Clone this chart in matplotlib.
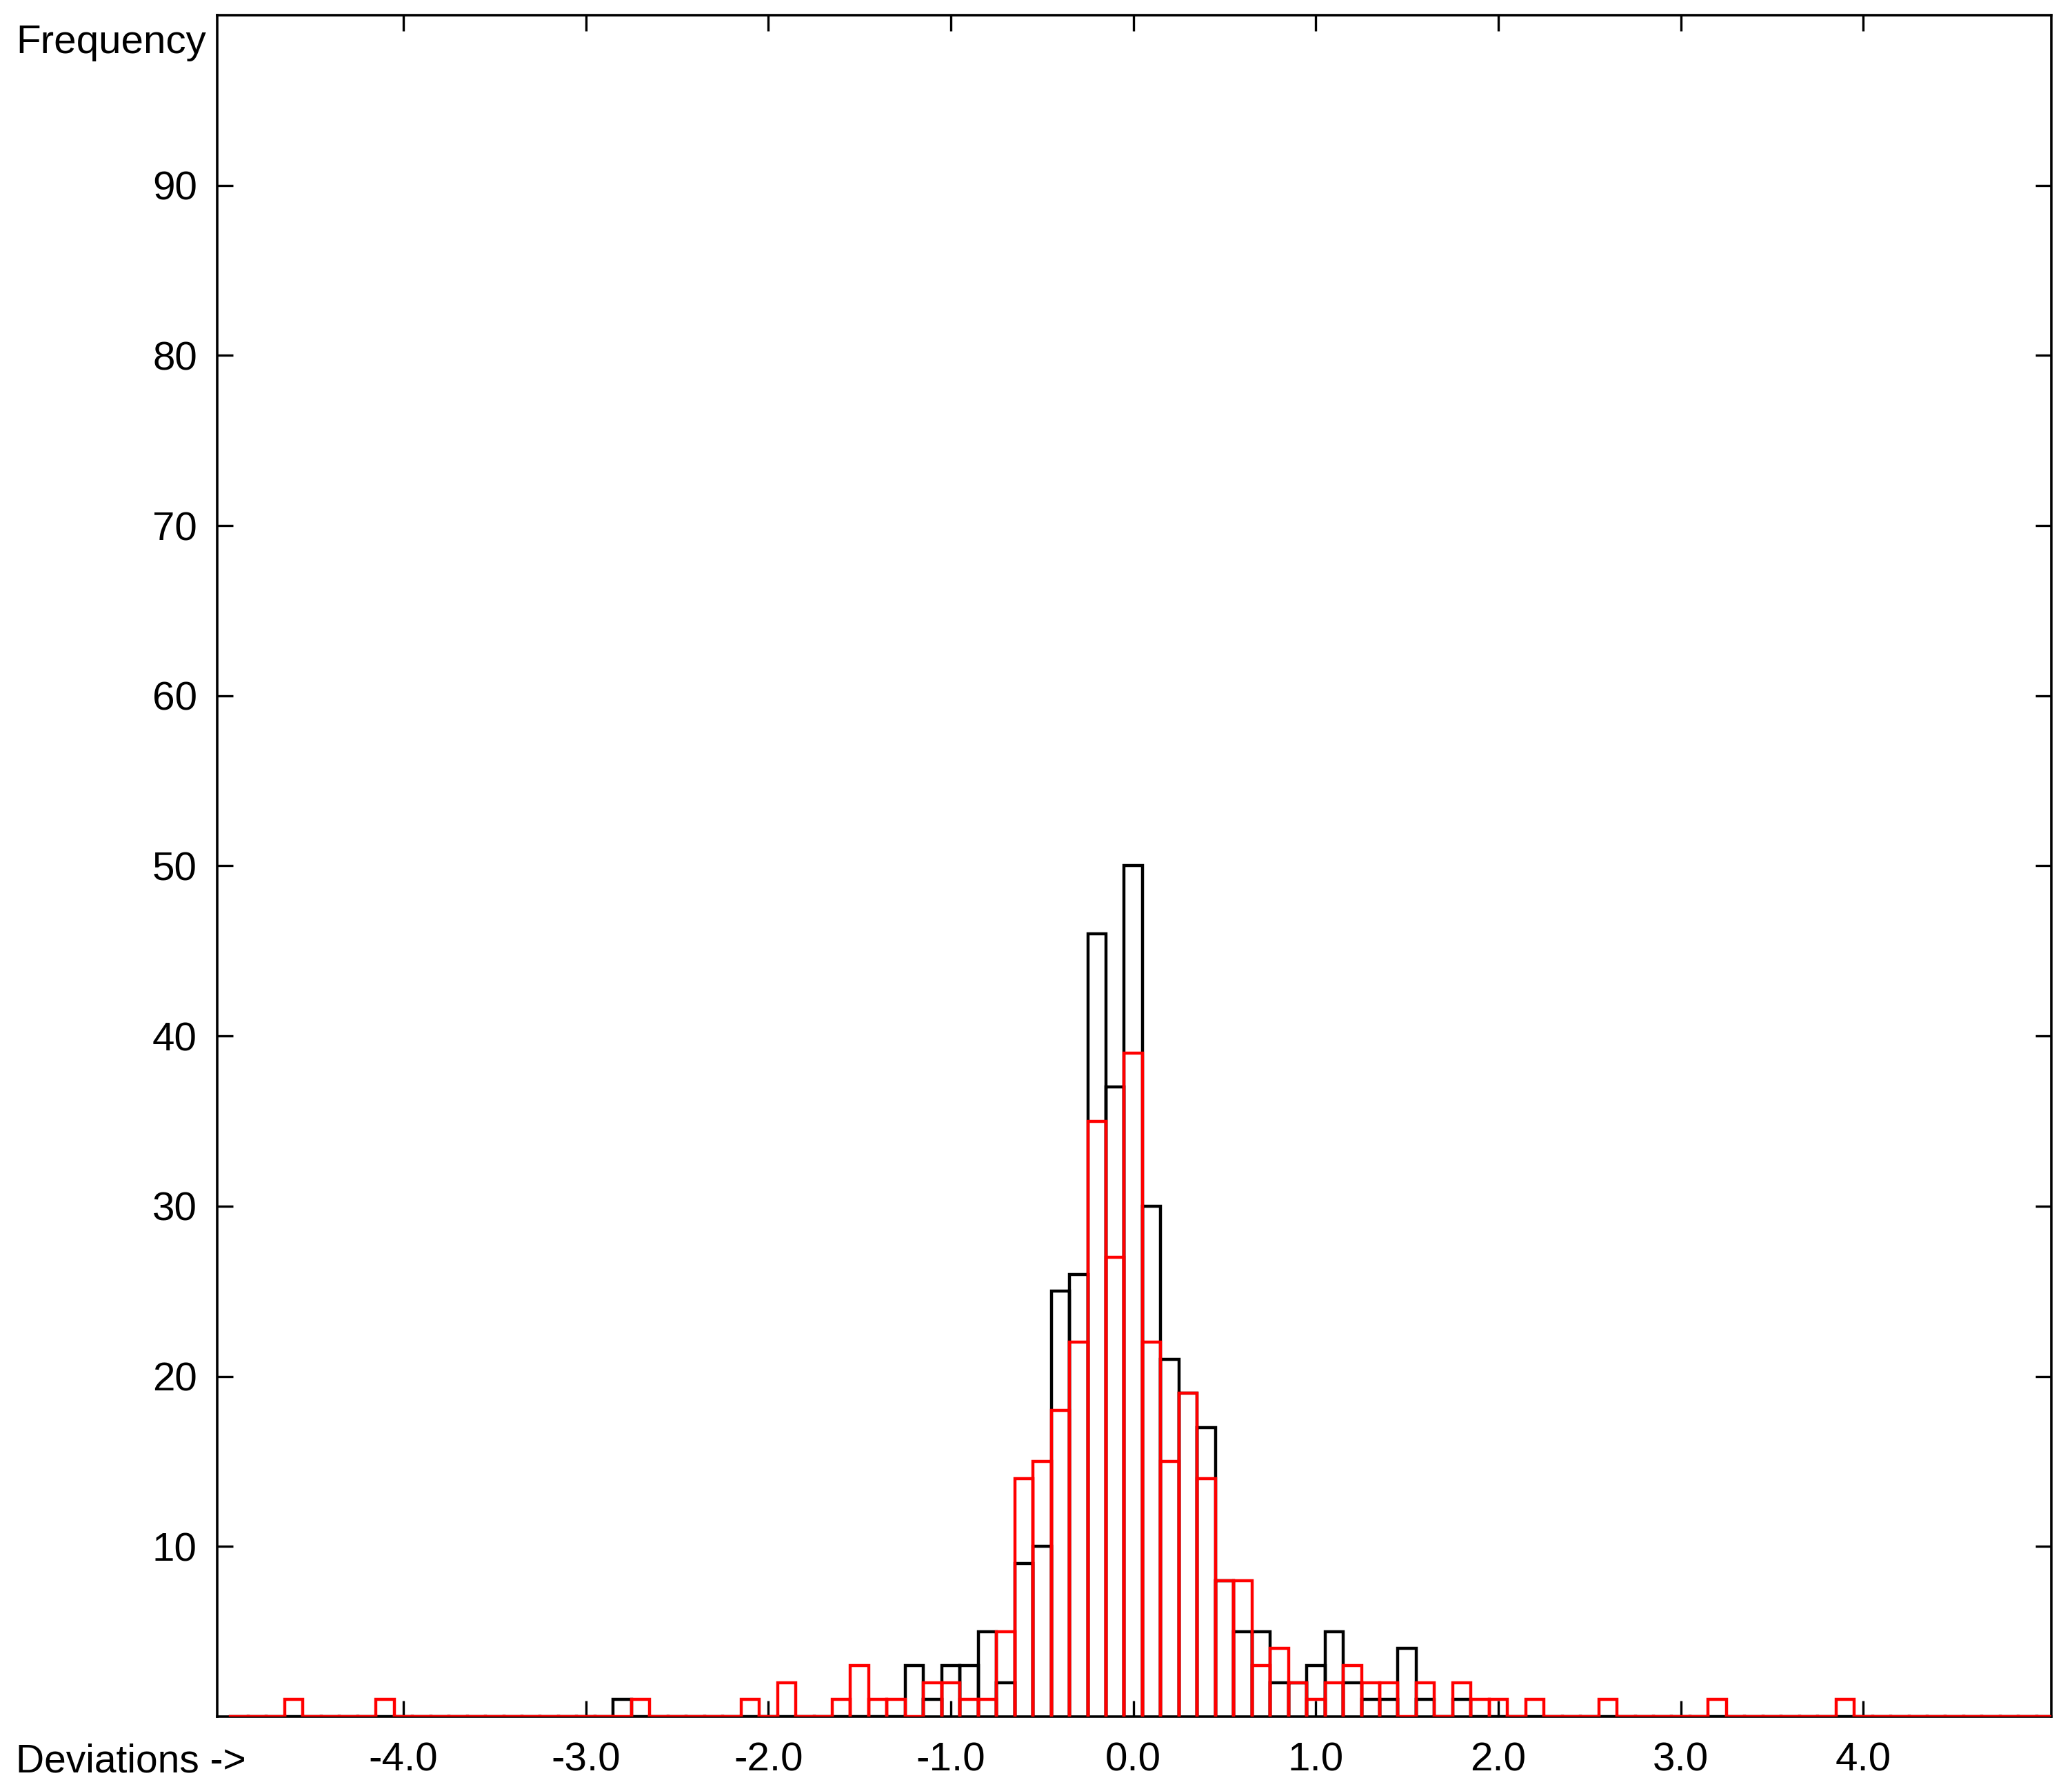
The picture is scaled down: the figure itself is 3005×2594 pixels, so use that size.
import numpy as np
import matplotlib.pyplot as plt

plt.rcParams['font.family'] = ['Liberation Sans', 'DejaVu Sans']

# histogram counts per 0.1-wide bin (bin centre -> frequency)
red_x = [-4.6, -4.1, -2.7, -2.1, -1.9, -1.6, -1.5, -1.4, -1.3, -1.1,
         -1.0, -0.9, -0.8, -0.7, -0.6, -0.5, -0.4, -0.3, -0.2, -0.1,
         0.0, 0.1, 0.2, 0.3, 0.4, 0.5, 0.6, 0.7, 0.8, 0.9,
         1.0, 1.1, 1.2, 1.3, 1.4, 1.6, 1.8, 1.9, 2.0, 2.2,
         2.6, 3.2, 3.9]
red_n = [1, 1, 1, 1, 2, 1, 3, 1, 1, 2,
         2, 1, 1, 5, 14, 15, 18, 22, 35, 27,
         39, 22, 15, 19, 14, 8, 8, 3, 4, 2,
         1, 2, 3, 2, 2, 2, 2, 1, 1, 1,
         1, 1, 1]

black_x = [-2.8, -1.2, -1.1, -1.0, -0.9, -0.8, -0.7, -0.6, -0.5, -0.4,
           -0.3, -0.2, -0.1, 0.0, 0.1, 0.2, 0.3, 0.4, 0.5, 0.6,
           0.7, 0.8, 0.9, 1.0, 1.1, 1.2, 1.3, 1.4, 1.5, 1.6,
           1.8]
black_n = [1, 3, 1, 3, 3, 5, 2, 9, 10, 25,
           26, 46, 37, 50, 30, 21, 19, 17, 8, 5,
           5, 2, 2, 3, 5, 2, 1, 1, 4, 1,
           1]

x_ticks = [-4, -3, -2, -1, 0, 1, 2, 3, 4]
y_ticks = [10, 20, 30, 40, 50, 60, 70, 80, 90]

bin_width = 0.1
bin_centers = np.round(np.arange(-4.9, 5.0001, bin_width), 1)


def counts_on_grid(xs, ns):
    out = np.zeros(len(bin_centers))
    for x, n in zip(xs, ns):
        out[int(round((x - bin_centers[0]) / bin_width))] = n
    return out


def outline(counts):
    # open boxes (no bottom) for filled bins, flat line for empty ones
    xs, ys = [], []
    for c, n in zip(bin_centers, counts):
        l, r = c - bin_width / 2, c + bin_width / 2
        if n > 0:
            xs += [l, l, r, r, np.nan]
            ys += [0, n, n, 0, np.nan]
        else:
            xs += [l, r, np.nan]
            ys += [0, 0, np.nan]
    return xs, ys


fig = plt.figure(figsize=(30.05, 25.94), dpi=100)
ax = fig.add_axes([0.10483, 0.04048, 0.88519, 0.95104])

bx, by = outline(counts_on_grid(black_x, black_n))
rx, ry = outline(counts_on_grid(red_x, red_n))
ax.plot(bx, by, color='black', lw=3.2, zorder=3, solid_joinstyle='miter')
ax.plot(rx, ry, color='#ff0000', lw=3.2, zorder=4, solid_joinstyle='miter')

ax.set_xlim(-5.02, 5.03)
ax.set_ylim(0, 100)
ax.set_xticks(x_ticks)
ax.set_xticklabels([f'{v:.1f}' for v in x_ticks])
ax.set_yticks(y_ticks)
ax.set_yticklabels([str(v) for v in y_ticks])

ax.tick_params(direction='in', length=16.5, width=2.4, top=True, right=True,
               labelsize=42, colors='black')
ax.tick_params(axis='x', pad=26)
ax.tick_params(axis='y', pad=21)
for s in ax.spines.values():
    s.set_linewidth(2.6)
    s.set_color('black')

fig.text(23 / 3005, 1 - 77 / 2594, 'Frequency', fontsize=42, va='baseline')
fig.text(23 / 3005, 1 - 2570 / 2594, 'Deviations ->', fontsize=41, va='baseline')

fig.savefig('out.png', dpi=100)
